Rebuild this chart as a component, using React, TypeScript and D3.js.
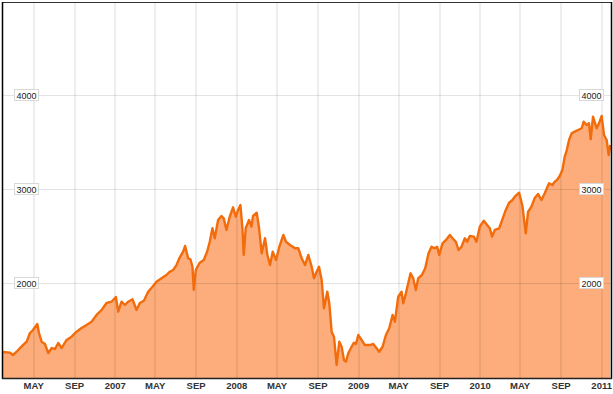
import React from "react";
import * as d3 from "d3";

const dates: string[] = [
  "2006-01-29","2006-02-19","2006-02-28","2006-03-11","2006-03-21","2006-03-30","2006-04-10","2006-04-20","2006-04-29","2006-05-12",
  "2006-05-17","2006-05-25","2006-06-04","2006-06-14","2006-06-24","2006-07-04","2006-07-14","2006-07-24","2006-08-08","2006-08-23",
  "2006-09-07","2006-09-22","2006-10-07","2006-10-22","2006-11-06","2006-11-21","2006-12-06","2006-12-21","2007-01-03","2007-01-10",
  "2007-01-20","2007-01-30","2007-02-09","2007-02-22","2007-03-06","2007-03-16","2007-03-28","2007-04-10","2007-04-23","2007-05-05",
  "2007-05-20","2007-06-04","2007-06-14","2007-06-24","2007-07-04","2007-07-14","2007-07-24","2007-07-30","2007-08-08","2007-08-15",
  "2007-08-21","2007-08-25","2007-08-31","2007-09-12","2007-09-24","2007-10-04","2007-10-12","2007-10-20","2007-10-27","2007-11-06",
  "2007-11-16","2007-11-23","2007-12-01","2007-12-11","2007-12-21","2007-12-29","2008-01-05","2008-01-12","2008-01-18","2008-01-22",
  "2008-01-28","2008-02-07","2008-02-14","2008-02-19","2008-03-01","2008-03-08","2008-03-16","2008-03-26","2008-04-02","2008-04-10",
  "2008-04-18","2008-04-28","2008-05-08","2008-05-20","2008-05-28","2008-06-09","2008-06-24","2008-07-04","2008-07-14","2008-07-24",
  "2008-08-03","2008-08-13","2008-08-20","2008-08-28","2008-09-04","2008-09-12","2008-09-19","2008-09-29","2008-10-05","2008-10-12",
  "2008-10-19","2008-10-27","2008-11-04","2008-11-11","2008-11-18","2008-11-24","2008-12-01","2008-12-11","2008-12-18","2008-12-24",
  "2008-12-31","2009-01-10","2009-01-20","2009-02-04","2009-02-14","2009-02-24","2009-03-04","2009-03-14","2009-03-24","2009-04-03",
  "2009-04-13","2009-04-20","2009-04-30","2009-05-10","2009-05-15","2009-05-23","2009-06-06","2009-06-14","2009-06-22","2009-06-29",
  "2009-07-10","2009-07-20","2009-07-30","2009-08-08","2009-08-18","2009-08-25","2009-08-31","2009-09-10","2009-09-22","2009-10-02",
  "2009-10-10","2009-10-20","2009-10-28","2009-11-06","2009-11-16","2009-11-23","2009-12-01","2009-12-13","2009-12-21","2009-12-31",
  "2010-01-12","2010-01-22","2010-01-30","2010-02-06","2010-02-14","2010-02-27","2010-03-09","2010-03-19","2010-03-29","2010-04-08",
  "2010-04-15","2010-04-28","2010-05-08","2010-05-18","2010-05-25","2010-06-04","2010-06-14","2010-06-24","2010-07-04","2010-07-14",
  "2010-07-27","2010-08-06","2010-08-13","2010-08-20","2010-08-28","2010-09-05","2010-09-12","2010-09-17","2010-09-25","2010-10-03",
  "2010-10-12","2010-10-22","2010-11-02","2010-11-08","2010-11-17","2010-11-24","2010-11-29","2010-12-06","2010-12-17","2010-12-24",
  "2011-01-01","2011-01-08","2011-01-16","2011-01-22","2011-01-27"
];

const values: number[] = [
  1266,1259,1234,1269,1308,1340,1376,1468,1500,1564,
  1468,1376,1351,1255,1308,1298,1362,1308,1394,1429,
  1482,1521,1553,1588,1660,1713,1787,1801,1851,1695,
  1801,1766,1801,1827,1713,1787,1812,1907,1961,2014,
  2050,2085,2120,2138,2191,2273,2333,2394,2263,2252,
  2173,1926,2138,2216,2245,2333,2439,2582,2476,2670,
  2713,2688,2564,2705,2805,2705,2777,2830,2585,2298,
  2585,2670,2599,2713,2748,2585,2316,2476,2298,2191,
  2333,2245,2386,2511,2439,2404,2369,2369,2263,2191,
  2298,2173,2050,2120,2173,2032,1731,1907,1784,1482,
  1429,1128,1376,1322,1181,1163,1252,1322,1365,1351,
  1447,1394,1340,1340,1351,1305,1269,1322,1447,1518,
  1660,1588,1854,1907,1784,1890,2103,2050,1926,2050,
  2085,2156,2316,2386,2369,2386,2298,2422,2465,2511,
  2476,2439,2351,2386,2476,2439,2500,2493,2439,2599,
  2663,2617,2582,2493,2564,2582,2678,2777,2854,2883,
  2918,2961,2819,2529,2758,2812,2904,2947,2883,2954,
  3061,3043,3078,3096,3138,3202,3344,3397,3521,3593,
  3610,3628,3646,3716,3681,3699,3529,3769,3646,3699,
  3777,3574,3521,3362,3468
];

const yTicks: number[] = [2000, 3000, 4000];
const xTickDates: string[] = [
  "2006-05-01","2006-09-01","2007-01-01","2007-05-01","2007-09-01","2008-01-01","2008-05-01","2008-09-01",
  "2009-01-01","2009-05-01","2009-09-01","2010-01-01","2010-05-01","2010-09-01","2011-01-01"
];
const xTickLabels: string[] = [
  "MAY","SEP","2007","MAY","SEP","2008","MAY","SEP","2009","MAY","SEP","2010","MAY","SEP","2011"
];

const W = 613, H = 394;
const left = 3, right = 611, top = 2, bottom = 378;

export default function App() {
  const parse = d3.utcParse("%Y-%m-%d");
  const data = dates.map((d, i) => ({ t: parse(d) as Date, v: values[i] }));
  const x = d3.scaleUtc()
    .domain([parse("2006-01-29") as Date, parse("2011-01-29") as Date])
    .range([left, right]);
  const y = d3.scaleLinear().domain([1000, 5000]).range([377, 1]);

  const area = d3.area<{ t: Date; v: number }>()
    .x((d) => x(d.t)).y0(bottom).y1((d) => y(d.v));
  const line = d3.line<{ t: Date; v: number }>()
    .x((d) => x(d.t)).y((d) => y(d.v));

  const font = "'Liberation Sans', Arial, sans-serif";

  return (
    <svg width={W} height={H} style={{ position: "fixed", left: 0, top: 0, background: "#fff" }} fontFamily={font}>
      <rect x={0} y={0} width={W} height={H} fill="#fff" />
      <path d={area(data) || ""} fill="#fdad7c" />
      {xTickDates.map((d, i) => {
        const xx = Math.round(x(parse(d) as Date));
        return <line key={"gx" + i} x1={xx} x2={xx} y1={top} y2={bottom} stroke="#000" strokeOpacity={0.065} strokeWidth={2} />;
      })}
      {yTicks.map((t, i) => (
        <line key={"gy" + i} x1={left} x2={right} y1={Math.round(y(t)) + 0.5} y2={Math.round(y(t)) + 0.5} stroke="#000" strokeOpacity={0.11} strokeWidth={1} />
      ))}
      <path d={line(data) || ""} fill="none" stroke="#f26c0c" strokeWidth={2.4} strokeLinejoin="round" />
      <line x1={2} x2={right + 1} y1={2.5} y2={2.5} stroke="#333" strokeWidth={1} />
      <line x1={2.5} x2={2.5} y1={2} y2={bottom + 1} stroke="#000" strokeWidth={1.5} />
      <line x1={right + 0.5} x2={right + 0.5} y1={2} y2={bottom + 1} stroke="#000" strokeWidth={1.5} />
      <line x1={2} x2={right + 1} y1={bottom + 0.5} y2={bottom + 0.5} stroke="#222" strokeWidth={1.5} />
      {yTicks.map((t, i) => {
        const yy = Math.round(y(t));
        return (
          <g key={"yl" + i}>
            <rect x={14.5} y={yy - 5.5} width={24} height={11} fill="#fff" stroke="#d8d8d8" strokeWidth={1} />
            <text x={26.5} y={yy + 3.5} textAnchor="middle" fontSize={9} fill="#222">{t}</text>
            <rect x={579.5} y={yy - 5.5} width={24} height={11} fill="#fff" stroke="#d8d8d8" strokeWidth={1} />
            <text x={591.5} y={yy + 3.5} textAnchor="middle" fontSize={9} fill="#222">{t}</text>
          </g>
        );
      })}
      {xTickDates.map((d, i) => (
        <text key={"xl" + i} x={x(parse(d) as Date)} y={388.5} textAnchor="middle" fontSize={9.5} fontWeight="bold" fill="#333">
          {xTickLabels[i]}
        </text>
      ))}
    </svg>
  );
}
